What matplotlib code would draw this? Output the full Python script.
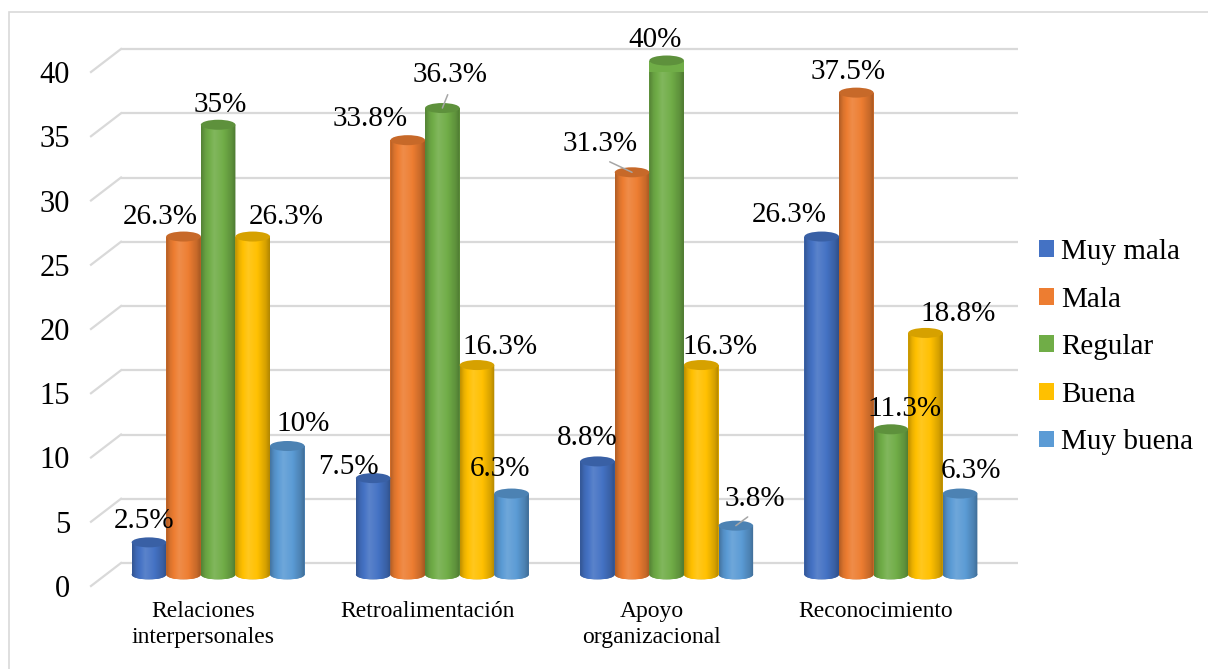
import numpy as np
import matplotlib
matplotlib.use("Agg")
import matplotlib.pyplot as plt
from matplotlib.patches import Ellipse, Polygon, Rectangle, Patch
from matplotlib.colors import to_rgb

# ---- data -------------------------------------------------------------
categories = ["Relaciones\ninterpersonales", "Retroalimentación",
              "Apoyo\norganizacional", "Reconocimiento"]
series_names = ["Muy mala", "Mala", "Regular", "Buena", "Muy buena"]
muy_mala = [2.5, 7.5, 8.8, 26.3]
mala = [26.3, 33.8, 31.3, 37.5]
regular = [35, 36.3, 40, 11.3]
buena = [26.3, 16.3, 16.3, 18.8]
muy_buena = [10, 6.3, 3.8, 6.3]
series_values = [muy_mala, mala, regular, buena, muy_buena]
y_ticks = [0, 5, 10, 15, 20, 25, 30, 35, 40]

# ---- style ------------------------------------------------------------
colors = ["#4472C4", "#ED7D31", "#70AD47", "#FFC000", "#5B9BD5"]
grid_color = "#d9d9d9"
leader_color = "#a6a6a6"

# label offsets (pixels, x right / y up) from the top of each cylinder
label_offsets = [
    [(-5, 21), (-25, 11), (-10, 23), (-32, 22)],
    [(-23, 20), (-38, 21), (-32, 28), (-8, 21)],
    [(2, 20), (8, 33), (-12, 21), (14, 20)],
    [(34, 20), (23, 18), (19, 18), (33, 19)],
    [(16, 22), (-12, 25), (19, 27), (11, 23)],
]
leaders = {(2, 1), (1, 2), (4, 2)}

plt.rcParams["font.family"] = ["Liberation Serif", "DejaVu Serif"]

W, H = 1208, 669
fig = plt.figure(figsize=(W / 100, H / 100), dpi=100)
fig.patch.set_facecolor("white")

ax_left, ax_bottom, ax_w, ax_h = 91, 83, 897, 514
ax = fig.add_axes([ax_left / W, ax_bottom / H, ax_w / W, ax_h / H])
xmin, xmax, ymin, ymax = -0.5, 3.5, 0, 40
ax.set_xlim(xmin, xmax)
ax.set_ylim(ymin, ymax)
ax.patch.set_visible(False)
for s in ax.spines.values():
    s.set_visible(False)

# depth of the pseudo-3D box, expressed in data units
px_x = ax_w / (xmax - xmin)
px_y = ax_h / (ymax - ymin)
wall_dx = 30 / px_x
wall_dy = 23 / px_y
bar_dx = wall_dx / 2
bar_dy = wall_dy / 2

# back wall gridlines and left-side floor lines
for v in y_ticks:
    ax.plot([xmin + wall_dx, xmax + wall_dx], [v + wall_dy, v + wall_dy],
            color=grid_color, lw=1.6, zorder=1, clip_on=False,
            solid_capstyle="butt")
    ax.plot([xmin, xmin + wall_dx], [v, v + wall_dy],
            color=grid_color, lw=1.6, zorder=1, clip_on=False)

# cylinder shading profile across the width
prof_t = [0.0, 0.12, 0.38, 0.62, 0.88, 1.0]
prof_p = [-0.25, -0.08, 0.12, 0.02, -0.16, -0.30]
tt = np.linspace(0, 1, 64)
pp = np.interp(tt, prof_t, prof_p)


def shade(rgb, p):
    rgb = np.array(rgb)
    if p < 0:
        return rgb * (1 + p)
    return rgb + (1 - rgb) * p


bar_w = 34.6 / px_x
ell_h = 10 / px_y

for j, (vals, col) in enumerate(zip(series_values, colors)):
    base_rgb = to_rgb(col)
    grad = np.array([shade(base_rgb, p) for p in pp])[np.newaxis, :, :]
    top_rgb = shade(base_rgb, -0.16)
    xs = [i + (j - 2) * bar_w + bar_dx for i in range(len(categories))]
    bars = ax.bar(xs, vals, width=bar_w, bottom=bar_dy, color=col,
                  linewidth=0, zorder=3, clip_on=False)
    for i, (rect, v) in enumerate(zip(bars, vals)):
        xc = xs[i]
        xl, xr = xc - bar_w / 2, xc + bar_w / 2
        top = bar_dy + v
        # bottom half ellipse
        ax.add_patch(Ellipse((xc, bar_dy), bar_w, ell_h, color=shade(base_rgb, -0.1),
                             zorder=2.9, clip_on=False, lw=0))
        # shaded body (side + rounded bottom)
        th = np.linspace(0, np.pi, 40)
        arc = np.column_stack([xc - bar_w / 2 * np.cos(th),
                               bar_dy - ell_h / 2 * np.sin(th)])
        outline = np.vstack([[xl, top], arc, [xr, top]])
        clip = Polygon(outline, closed=True, transform=ax.transData)
        im = ax.imshow(grad, extent=(xl, xr, bar_dy - ell_h / 2, top),
                       aspect="auto", interpolation="bilinear", zorder=3.1)
        im.set_clip_path(clip)
        # top cap
        ax.add_patch(Ellipse((xc, top), bar_w, ell_h, color=top_rgb,
                             zorder=3.2, clip_on=False, lw=0))
        # value label
        dx, dy = label_offsets[j][i]
        kw = {}
        if (j, i) in leaders:
            kw["arrowprops"] = dict(arrowstyle="-", color=leader_color, lw=1.1,
                                    shrinkA=3, shrinkB=0, relpos=(0.5, 0.0))
        ax.annotate(f"{v:g}%", xy=(xc, top), xytext=(dx, dy),
                    textcoords="offset pixels", ha="center", va="center",
                    fontsize=21, color="black", zorder=5,
                    annotation_clip=False, **kw)

ax.set_xlim(xmin, xmax)
ax.set_ylim(ymin, ymax)

ax.set_yticks(y_ticks)
ax.set_yticklabels([str(v) for v in y_ticks])
ax.tick_params(axis="y", length=0, pad=15, labelsize=22, labelcolor="black")
ax.set_xticks(range(len(categories)))
ax.set_xticklabels(categories)
ax.tick_params(axis="x", length=0, pad=11, labelsize=17, labelcolor="black")
for lbl in ax.get_xticklabels():
    lbl.set_linespacing(1.3)

handles = [Patch(facecolor=c, edgecolor="none", label=n)
           for c, n in zip(colors, series_names)]
fig.legend(handles=handles, loc="upper left",
           bbox_to_anchor=(1039 / W, (H - 239) / H), frameon=False,
           fontsize=21, handlelength=0.5, handleheight=0.5,
           handletextpad=0.25, labelspacing=0.74, borderpad=0,
           borderaxespad=0)

fig.patches.append(Rectangle((9 / W, -0.1), 1.2, (H - 12) / H + 0.1,
                             transform=fig.transFigure, fill=False,
                             ec=grid_color, lw=1.2))

fig.savefig("out.png", dpi=100)
